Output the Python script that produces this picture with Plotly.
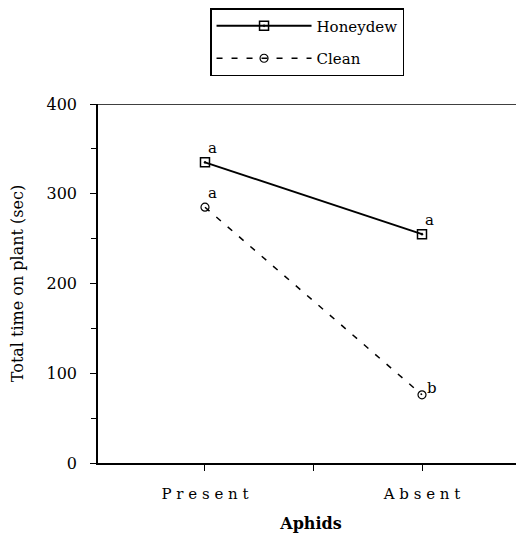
import plotly.graph_objects as go

categories = ["Present", "Absent"]
honeydew = [335, 255]
clean = [285, 76]
honeydew_letters = ["a", "a"]
clean_letters = ["a", "b"]
y_ticks = [0, 100, 200, 300, 400]

FONT = "DejaVu Serif"
x_pos = list(range(len(categories)))

fig = go.Figure()
fig.add_trace(go.Scatter(
    x=x_pos, y=honeydew, name="Honeydew", mode="lines+markers", legendgroup="h",
    line=dict(color="black", width=2),
    marker=dict(symbol="square-open-dot", size=9, color="black", line=dict(width=1.5)),
))
fig.add_trace(go.Scatter(
    x=x_pos, y=clean, name="Clean", mode="lines+markers", legendgroup="c",
    line=dict(color="black", width=1.5, dash="6px,9px"),
    marker=dict(symbol="circle-open", size=8, color="black", line=dict(width=1.2)),
))

for xi, yv, lab in zip(x_pos, honeydew, honeydew_letters):
    fig.add_annotation(x=xi, y=yv, text=lab, showarrow=False, xanchor="left", yanchor="bottom",
                       xshift=1, yshift=3, font=dict(family=FONT, size=15, color="black"))
for xi, yv, lab in zip(x_pos, clean, clean_letters):
    if lab == "b":
        fig.add_annotation(x=xi, y=yv, text=lab, showarrow=False, xanchor="left", yanchor="bottom",
                           xshift=3, yshift=-4, font=dict(family=FONT, size=15, color="black"))
    else:
        fig.add_annotation(x=xi, y=yv, text=lab, showarrow=False, xanchor="left", yanchor="bottom",
                           xshift=1, yshift=3, font=dict(family=FONT, size=15, color="black"))

# top frame line
fig.add_shape(type="line", xref="paper", yref="y", x0=0, x1=1, y0=400, y1=400,
              line=dict(color="black", width=1.5))

fig.update_layout(
    width=516, height=526,
    margin=dict(l=90, r=0, t=96, b=71),
    paper_bgcolor="white", plot_bgcolor="white",
    font=dict(family=FONT, size=15, color="black"),
    showlegend=True,
    legend=dict(x=0.263, y=1.269, xanchor="left", yanchor="top",
                bordercolor="black", borderwidth=1.5, bgcolor="white",
                itemwidth=95, font=dict(family=FONT, size=15),
                traceorder="grouped", tracegroupgap=10),
    xaxis=dict(
        range=[-0.493, 1.47], tickvals=[0, 0.5, 1],
        ticktext=["P r e s e n t", "", "A b s e n t"],
        showgrid=False, zeroline=False, showline=True, linecolor="black", linewidth=1.5,
        ticks="outside", ticklen=6, tickcolor="black", ticklabelstandoff=10,
        title=dict(text="<b>Aphids</b>", font=dict(family=FONT, size=16), standoff=16),
    ),
    yaxis=dict(
        range=[0, 400], tickvals=y_ticks,
        showgrid=False, zeroline=False, showline=True, linecolor="black", linewidth=1.5,
        ticks="outside", ticklen=6, tickcolor="black", ticklabelstandoff=10,
        tickfont=dict(family=FONT, size=16),
        minor=dict(dtick=50, ticks="outside", ticklen=5, tickcolor="black"),
        title=dict(text="Total time on plant (sec)", font=dict(family=FONT, size=16), standoff=24),
    ),
)

fig.write_html("out.html")
